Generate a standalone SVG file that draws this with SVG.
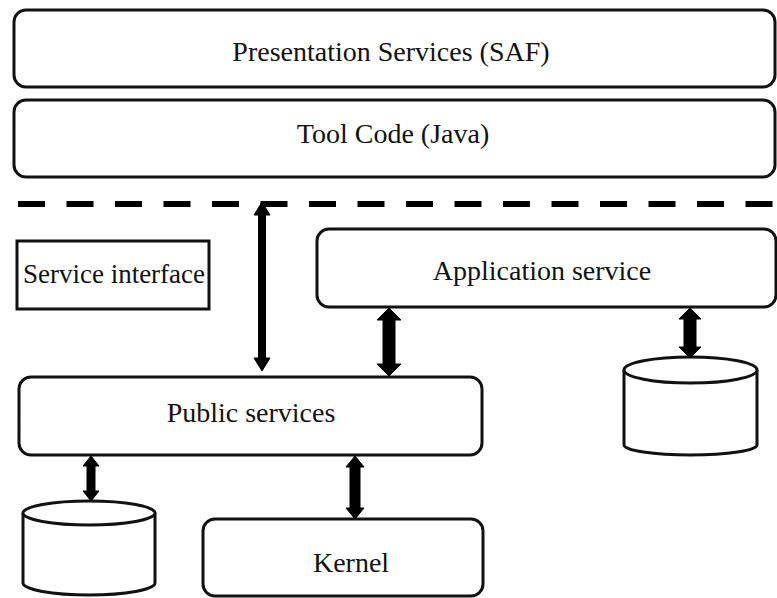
<svg xmlns="http://www.w3.org/2000/svg" width="777" height="598" viewBox="0 0 777 598">
<style>
.box{fill:#fff;stroke:#111;stroke-width:3}
.lbl{font-family:"Liberation Serif","Times New Roman",serif;font-size:28px;fill:#111;text-anchor:middle}
.arr{fill:#000;stroke:#000;stroke-width:1;stroke-linejoin:round}
.dash{stroke:#000;stroke-width:6;stroke-dasharray:27 21.5;fill:none}
</style>
<rect width="777" height="598" fill="#fff"/>
<g id="presentation">
<rect class="box" x="14" y="10" width="761" height="77" rx="12"/>
<text class="lbl" x="391" y="61">Presentation Services (SAF)</text>
</g>
<g id="toolcode">
<rect class="box" x="14" y="100" width="761" height="77" rx="12"/>
<text class="lbl" x="393" y="143">Tool Code (Java)</text>
</g>
<g id="boundary">
<line class="dash" x1="18" y1="204" x2="777" y2="204"/>
</g>
<g id="service-interface">
<rect class="box" x="17" y="241" width="192" height="68"/>
<text class="lbl" x="114" y="283" style="font-size:27px">Service interface</text>
</g>
<g id="application-service">
<rect class="box" x="317" y="229" width="459" height="78" rx="12"/>
<text class="lbl" x="542" y="280">Application service</text>
</g>
<g id="public-services">
<rect class="box" x="19" y="377" width="463" height="78" rx="12"/>
<text class="lbl" x="251" y="422">Public services</text>
</g>
<g id="kernel">
<rect class="box" x="203" y="519" width="280" height="77" rx="12"/>
<text class="lbl" x="351" y="572">Kernel</text>
</g>
<g id="db-right">
<path class="box" d="M624,370 L624,445 A66.5,10 0 0 0 757,445 L757,370"/>
<ellipse class="box" cx="690.5" cy="370" rx="66.5" ry="13"/>
</g>
<g id="db-left">
<path class="box" d="M23,513 L23,583 A66,12 0 0 0 155,583 L155,513"/>
<ellipse class="box" cx="89" cy="513" rx="66" ry="12"/>
</g>
<g id="connectors">
<polygon class="arr" points="262,202 270,215 265.5,215 265.5,358 270,358 262,371 254,358 258.5,358 258.5,215 254,215"/>
<polygon class="arr" points="389,308 401,320 395,320 395,364 401,364 389,376 377,364 383,364 383,320 377,320"/>
<polygon class="arr" points="690,308 701,319 696,319 696,347 701,347 690,358 679,347 684,347 684,319 679,319"/>
<polygon class="arr" points="91,456 99,466 95,466 95,491 99,491 91,501 83,491 87,491 87,466 83,466"/>
<polygon class="arr" points="355,456 364,467 360,467 360,508 364,508 355,519 346,508 350,508 350,467 346,467"/>
</g>
</svg>
